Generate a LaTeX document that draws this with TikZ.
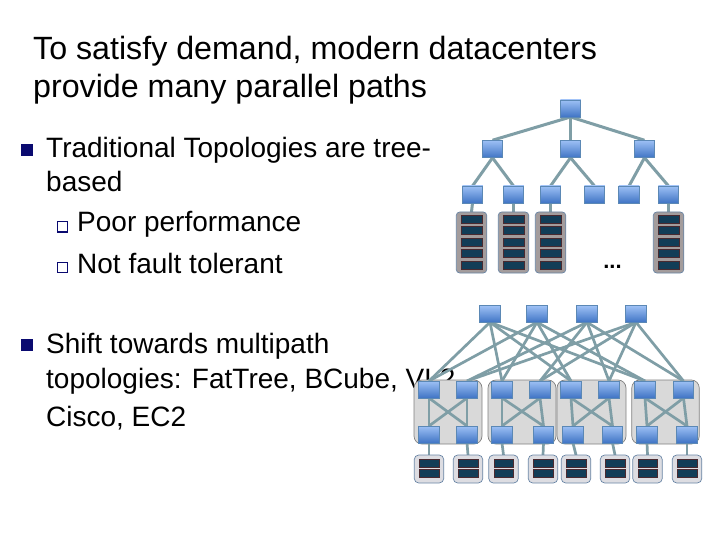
\documentclass[tikz,border=0pt]{standalone}
\usepackage{fontspec}
\setmainfont{Liberation Sans}
\pgfdeclarelayer{lo}\pgfdeclarelayer{mid}
\pgfsetlayers{lo,mid,main}
\definecolor{linkc}{HTML}{7F9EA6}
\definecolor{swtop}{HTML}{9DC0F5}
\definecolor{swbot}{HTML}{3F74C4}
\definecolor{swedge}{HTML}{5B88B5}
\definecolor{navyb}{HTML}{0A0A70}
\definecolor{rackf}{HTML}{A39C9C}
\definecolor{rackd}{HTML}{6A86A6}
\definecolor{barf}{HTML}{123D57}
\definecolor{bard}{HTML}{4A2A30}
\definecolor{podf}{HTML}{D9D9D9}
\definecolor{podd}{HTML}{808080}
\definecolor{srvf}{HTML}{DDDDE2}
\tikzset{
 x=1pt,y=-1pt,
 sw/.style={draw=swedge,line width=.6pt,top color=swtop,bottom color=swbot,inner sep=0,outer sep=0,minimum width=20.5pt,minimum height=17pt},
 swtall/.style={sw,minimum height=17.5pt},
 lnk/.style={draw=linkc,line width=3pt},
 lnkb/.style={draw=linkc,line width=2.7pt},
 rack/.style={draw=rackd,fill=rackf,line width=.7pt,rounded corners=3.5pt,inner sep=0,outer sep=0,minimum width=30.5pt,minimum height=61pt},
 srv/.style={draw=rackd,fill=srvf,line width=.7pt,rounded corners=4.5pt,inner sep=0,outer sep=0,minimum width=29.5pt,minimum height=28pt},
 pod/.style={draw=podd,fill=podf,line width=.7pt,rounded corners=8pt,inner sep=0,minimum height=64pt},
 bar/.style={draw=bard,fill=barf,line width=.5pt,inner sep=0,minimum width=20.5pt,minimum height=8pt},
 sbar/.style={bar,minimum width=19.5pt,minimum height=8pt},
 txt/.style={anchor=base west,inner sep=0,font=\fontsize{28}{28}\selectfont},
 ttl/.style={anchor=base west,inner sep=0,font=\fontsize{32.2}{32.2}\selectfont},
 bul/.style={fill=navyb,inner sep=0,minimum size=11.5pt},
 sbul/.style={draw=navyb,fill=white,line width=1pt,inner sep=0,minimum size=10pt},
}
\begin{document}
\begin{tikzpicture}
\useasboundingbox (0,0) rectangle (720,540);
\begin{pgfonlayer}{lo}
\node[ttl] (t1) at (33,60) {To satisfy demand, modern datacenters};
\node[ttl] (t2) at (33,98) {provide many parallel paths};
\node[bul] (b1) at (27,150) {};
\node[txt] (l1) at (46,158) {Traditional Topologies are tree-};
\node[txt] (l2) at (46,192) {based};
\node[sbul] (b2) at (62.5,227) {};
\node[txt] (l3) at (77,232) {Poor performance};
\node[sbul] (b3) at (62.5,267) {};
\node[txt] (l4) at (77,273) {Not fault tolerant};
\node[bul] (b4) at (27,345) {};
\node[txt] (l5) at (46,353) {Shift towards multipath};
\node[txt] (l6) at (46,388) {topologies: FatTree, BCube, VL2,};
\node[txt] (l7) at (46,426) {Cisco, EC2};
\node[pod,minimum width=68pt] (p1) at (448,412) {};
\node[pod,minimum width=68pt] (p2) at (522,412) {};
\node[pod,minimum width=69pt] (p3) at (591.5,412) {};
\node[pod,minimum width=67.5pt] (p4) at (665.5,412) {};
\end{pgfonlayer}
% upper tree
\node[sw] (r) at (570.5,108.5) {};
\node[swtall] (m1) at (492.5,149) {};
\node[swtall] (m2) at (570.5,149) {};
\node[swtall] (m3) at (644.5,149) {};
\foreach \n/\x in {u1/472.5,u2/513.5,u3/550.5,u4/594.5,u5/629,u6/668.5}
  \node[sw] (\n) at (\x,194.5) {};
\foreach \n/\x in {k1/471.5,k2/513.5,k3/550.5,k4/668.5} {
  \node[rack] (\n) at (\x,242.5) {};
  \foreach \i/\y in {a/219.5,b/230.5,c/242,d/253,e/265}
    \node[bar] (\n\i) at (\x,\y) {};
}
\node[anchor=base,inner sep=0,font=\fontsize{22}{22}\selectfont\bfseries] (dots) at (612.5,268) {...};
\begin{pgfonlayer}{mid}
\foreach \a/\b in {r/m1,r/m2,r/m3,m1/u1,m1/u2,m2/u3,m2/u4,m3/u5,m3/u6,u1/k1,u2/k2,u3/k3,u6/k4}
  \draw[lnk] (\a.south) -- (\b.north);
\end{pgfonlayer}
% lower fat tree
\foreach \n/\x in {c1/490,c2/537,c3/587,c4/636}
  \node[sw,minimum height=16.5pt] (\n) at (\x,314) {};
\foreach \n/\x in {a1/429,a2/467,a3/502,a4/540,a5/571,a6/609,a7/645,a8/683.5}
  \node[sw] (\n) at (\x,389.5) {};
\foreach \n/\x in {e1/429,e2/467,e3/502,e4/543.5,e5/573,e6/612.5,e7/647,e8/687}
  \node[sw] (\n) at (\x,434.5) {};
\foreach \n/\x in {s1/429,s2/468,s3/503.5,s4/543,s5/576,s6/615,s7/647.5,s8/687} {
  \node[srv] (\n) at (\x,469) {};
  \node[sbar] (\n a) at (\x,463) {};
  \node[sbar] (\n b) at (\x,473) {};
}
\begin{pgfonlayer}{mid}
\foreach \c in {c1,c2} \foreach \a in {a1,a3,a5,a7}
  \draw[lnkb] (\c.south) -- (\a.north);
\foreach \c in {c3,c4} \foreach \a in {a2,a4,a6,a8}
  \draw[lnkb] (\c.south) -- (\a.north);
\foreach \x/\y/\z/\w/\s/\t in {a1/a2/e1/e2/s1/s2,a3/a4/e3/e4/s3/s4,a5/a6/e5/e6/s5/s6,a7/a8/e7/e8/s7/s8} {
  \draw[lnkb] (\x.south) -- (\z.north);
  \draw[lnkb] (\y.south) -- (\w.north);
  \draw[lnkb] (\x.south) -- (\w.north);
  \draw[lnkb] (\y.south) -- (\z.north);
  \draw[lnkb] (\z.south) -- (\s.north);
  \draw[lnkb] (\w.south) -- (\t.north);
}
\end{pgfonlayer}
\end{tikzpicture}
\end{document}
